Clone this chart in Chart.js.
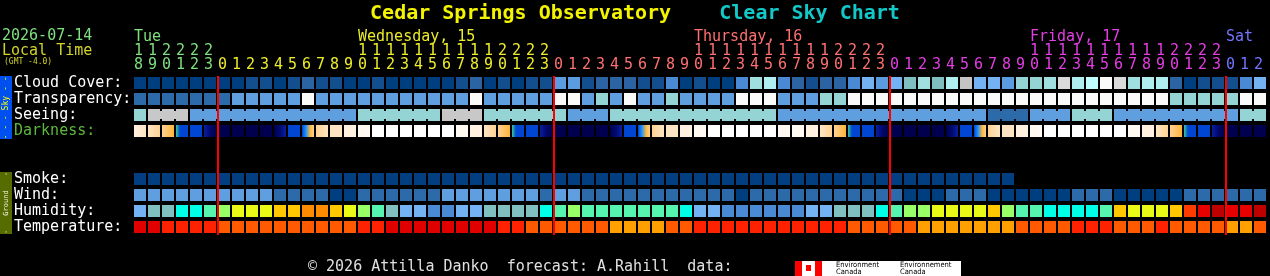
<!DOCTYPE html>
<html>
<head>
<meta charset="utf-8">
<script src="https://cdn.jsdelivr.net/npm/chart.js@4.4.1/dist/chart.umd.min.js"></script>
<style>
  html, body { margin: 0; padding: 0; background: #000; width: 1270px; height: 276px; overflow: hidden; }
  body { position: relative; font-family: 'DejaVu Sans Mono', monospace; }
  #csc { position: absolute; left: 0; top: 0; }
  .txt { position: absolute; white-space: pre; font-size: 15px; line-height: 15px; }
  #title { position: absolute; left: 0; top: 0; width: 1270px; text-align: center; white-space: pre;
           font-size: 20px; line-height: 24px; font-weight: bold; }
  .side { position: absolute; left: 0; width: 12px; overflow: hidden; }
  .side .rot { position: absolute; left: 50%; top: 50%; height: 12px; line-height: 12px;
               display: flex; justify-content: space-between; align-items: center; white-space: pre;
               transform: translate(-50%, -50%) rotate(-90deg); }
  #logo { position: absolute; left: 822px; top: 261px; width: 139px; height: 15px; background: #fff; }
  #logo span { position: absolute; top: 0; font-family: 'Liberation Sans Narrow', 'DejaVu Sans Condensed', sans-serif;
               font-size: 7.5px; line-height: 7px; color: #000; white-space: pre; }
</style>
</head>
<body>
<canvas id="csc" width="1270" height="276"></canvas>

<div id="title"><span style="color:#f4f400">Cedar Springs Observatory</span>    <span style="color:#12c8c8">Clear Sky Chart</span></div>
<div class="txt" style="left:2px; top:28px; color:#7ee07e">2026-07-14</div>
<div class="txt" style="left:2px; top:43px; color:#d2d22a">Local Time</div>
<div class="txt" style="left:4px; top:58px; font-size:8px; line-height:8px; color:#d2d22a">(GMT -4.0)</div>

<div class="side" style="top:76px; height:63px; background:#0050f0">
  <div class="rot" style="width:63px; font-size:8px; color:#ffff00"><span>- - -</span><span>Sky</span><span>- -</span></div>
</div>
<div class="side" style="top:172px; height:62px; background:#576c00">
  <div class="rot" style="width:62px; font-size:7px; color:#f0f0e0"><span>-</span><span>Ground</span><span>-</span></div>
</div>

<div class="txt" style="left:308px; top:259px; color:#e0e0e0">© 2026 Attilla Danko  forecast: A.Rahill  data:</div>
<div style="position:absolute; left:795px; top:261px; width:27px; height:15px; background:#ff0000">
  <div style="position:absolute; left:7px; top:0; width:13px; height:15px; background:#fff"></div>
  <div style="position:absolute; left:11px; top:4px; width:5px; height:6px; background:#ff0000"></div>
</div>
<div id="logo">
  <span style="left:14px">Environment
Canada</span>
  <span style="left:78px">Environnement
Canada</span>
</div>

<script>
// hour of each column (local time), Tue 18h .. Sat 2h
const hourLabels = [18, 19, 20, 21, 22, 23,
  0, 1, 2, 3, 4, 5, 6, 7, 8, 9, 10, 11, 12, 13, 14, 15, 16, 17, 18, 19, 20, 21, 22, 23,
  0, 1, 2, 3, 4, 5, 6, 7, 8, 9, 10, 11, 12, 13, 14, 15, 16, 17, 18, 19, 20, 21, 22, 23,
  0, 1, 2, 3, 4, 5, 6, 7, 8, 9, 10, 11, 12, 13, 14, 15, 16, 17, 18, 19, 20, 21, 22, 23,
  0, 1, 2];
const dayNames = ['Tue', 'Wednesday, 15', 'Thursday, 16', 'Friday, 17', 'Sat'];
const dayColors = ['#7ee07e', '#ecec2c', '#ff7070', '#e23ee2', '#7474ff'];
const rowLabels = ['Cloud Cover:', 'Transparency:', 'Seeing:', 'Darkness:', ' ', '  ',
  'Smoke:', 'Wind:', 'Humidity:', 'Temperature:'];

// legend levels for each forecast row
const cloudColors = ['#003f7f', '#134f8f', '#2b63a3', '#4a8ad4', '#5b9be0', '#73b3f3', '#7fbfbf',
  '#94d4d4', '#9fdfdf', '#afefef', '#bfffff', '#c4c4c4', '#dadada', '#fafafa'];
const skyColors = ['#003f7f', '#2c6aaa', '#5f9fdf', '#94d4d4', '#c8c8c8', '#fafafa'];
const darkColors = ['#ffffff', '#fff9f2', '#fff0e0', '#ffe4c4', '#ffd292', '#ffb43c', '#3cc896',
  '#1e96ff', '#0046d2', '#0a1e9e', '#000a6e', '#00004e'];
const smokeColors = ['#023e80'];
const windColors = ['#003f7f', '#2c6aaa', '#5f9fdf'];
const humidityColors = ['#4a8ad4', '#73b3f3', '#80c0c0', '#00ffe6', '#55f5b0', '#99ff66', '#e8fa16',
  '#ffc800', '#ff8c00', '#ff3c00', '#e60000', '#bf0000'];
const tempColors = ['#ffa000', '#ff5a00', '#ff2200', '#e00000'];

const cloud = [0, 0, 0, 0, 0, 0, 0, 0, 1, 1, 0, 1, 2, 1, 1, 0, 0, 1, 0, 0,
  0, 0, 0, 1, 2, 0, 1, 0, 1, 1, 4, 4, 1, 2, 2, 2, 1, 1, 3, 0,
  1, 0, 0, 3, 8, 9, 3, 2, 1, 2, 2, 3, 5, 4, 5, 6, 8, 6, 9, 11,
  5, 5, 4, 7, 7, 8, 12, 9, 10, 13, 12, 8, 9, 9, 2, 0, 1, 1, 1, 3, 5];
const transparency = [1, 1, 1, 1, 1, 1, 1, 2, 2, 2, 2, 2, 5, 2, 2, 2, 2, 2, 2, 2,
  2, 2, 2, 2, 5, 2, 2, 2, 2, 2, 5, 5, 2, 3, 2, 5, 2, 2, 3, 2,
  2, 2, 2, 5, 5, 5, 2, 2, 2, 3, 3, 5, 5, 5, 5, 5, 5, 5, 5, 5,
  5, 5, 5, 5, 5, 5, 5, 5, 5, 5, 5, 5, 5, 5, 3, 3, 3, 3, 3, 5, 5];
const seeing = [3, 4, 4, 4, 2, 2, 2, 2, 2, 2, 2, 2, 2, 2, 2, 2, 3, 3, 3, 3,
  3, 3, 4, 4, 4, 3, 3, 3, 3, 3, 3, 2, 2, 2, 3, 3, 3, 3, 3, 3,
  3, 3, 3, 3, 3, 3, 2, 2, 2, 2, 2, 2, 2, 2, 2, 2, 2, 2, 2, 2,
  2, 1, 1, 1, 2, 2, 2, 3, 3, 3, 2, 2, 2, 2, 2, 2, 2, 2, 2, 3, 3];
// darkness changes inside an hour, so each column lists its levels from left to right
const darkness = [
  [2, 3], [3, 4], [4, 5], [6, 8, 8, 8], [8], [9, 10, 11], [11], [11], [11], [11], [11, 10, 9], [8], [8, 7, 5, 4], [4, 3], [3], [2], [1], [0], [0], [0],
  [0], [0], [0], [1], [2], [3, 4], [4, 5], [6, 8, 8, 8], [8], [9, 10, 11], [11], [11], [11], [11], [11, 10, 9], [8], [8, 7, 5, 4], [4, 3], [3], [2],
  [1], [0], [0], [0], [0], [0], [1], [1], [2], [3, 4], [4, 5], [6, 8, 8, 8], [8], [9, 10, 11], [11], [11], [11], [11], [11, 10, 9], [8],
  [8, 7, 5, 4], [4, 3], [3], [2], [1], [0], [0], [0], [0], [0], [0], [1], [2], [3, 4], [4, 5], [6, 8, 8, 8], [8], [9, 10, 11], [11], [11], [11]];
const smoke = [0, 0, 0, 0, 0, 0, 0, 0, 0, 0, 0, 0, 0, 0, 0, 0, 0, 0, 0, 0,
  0, 0, 0, 0, 0, 0, 0, 0, 0, 0, 0, 0, 0, 0, 0, 0, 0, 0, 0, 0,
  0, 0, 0, 0, 0, 0, 0, 0, 0, 0, 0, 0, 0, 0, 0, 0, 0, 0, 0, 0, 0, 0, 0];
const wind = [2, 2, 2, 2, 2, 2, 2, 2, 2, 2, 1, 1, 1, 1, 0, 0, 1, 1, 1, 1,
  1, 1, 2, 2, 2, 2, 2, 2, 2, 1, 2, 2, 1, 1, 1, 1, 1, 1, 1, 1,
  1, 1, 1, 0, 1, 1, 1, 1, 1, 1, 1, 1, 1, 1, 1, 0, 0, 0, 1, 1,
  1, 0, 0, 0, 0, 0, 0, 1, 1, 1, 0, 0, 0, 0, 0, 1, 1, 1, 1, 1, 1];
const humidity = [1, 2, 2, 3, 3, 4, 5, 6, 6, 6, 7, 7, 8, 8, 7, 6, 5, 4, 2, 1,
  1, 0, 0, 1, 1, 2, 2, 2, 2, 3, 4, 5, 4, 4, 4, 4, 4, 4, 4, 3,
  1, 1, 0, 0, 0, 0, 0, 0, 1, 1, 2, 2, 2, 3, 4, 5, 5, 6, 6, 6,
  6, 7, 5, 4, 4, 3, 3, 3, 3, 4, 7, 6, 6, 6, 7, 9, 10, 11, 10, 10, 11];
const temperature = [3, 3, 2, 2, 2, 2, 1, 1, 1, 1, 1, 1, 1, 1, 1, 1, 2, 2, 3, 3,
  3, 3, 3, 3, 3, 3, 2, 2, 1, 1, 1, 1, 1, 1, 0, 0, 0, 0, 1, 1,
  2, 2, 2, 2, 2, 2, 2, 2, 2, 2, 2, 1, 1, 1, 1, 1, 0, 0, 0, 0,
  0, 0, 0, 1, 1, 1, 1, 2, 2, 2, 1, 1, 1, 2, 1, 1, 1, 1, 0, 0, 1];

const CELL = 12 / 14; // filled part of each hour column

// day index of every column, and where each day name is written
const dayOfCol = [];
const dayLabelAt = {};
let day = 0;
hourLabels.forEach((h, i) => {
  if (i > 0 && h === 0) day++;
  dayOfCol.push(day);
});
dayNames.forEach((name, d) => {
  const cols = hourLabels.map((h, i) => i).filter(i => dayOfCol[i] === d);
  const ten = cols.find(i => hourLabels[i] === 10);
  dayLabelAt[ten !== undefined ? ten : cols[0]] = name;
});

function cellRow(values, row, palette) {
  return {
    data: values.map((v, i) => ({ x: [i, i + CELL], y: row })),
    backgroundColor: values.map(v => palette[v]),
    barPercentage: 0.75
  };
}

// Seeing blocks are joined by a thinner bar between equal neighbours
const seeingLinks = [];
seeing.forEach((v, i) => {
  if (i < seeing.length - 1 && seeing[i + 1] === v) seeingLinks.push(i);
});

function darkFill(ctx) {
  const levels = darkness[ctx.dataIndex];
  if (!levels) return darkColors[0];
  if (levels.length === 1 || !ctx.chart.chartArea) return darkColors[levels[0]];
  const x = ctx.chart.scales.x;
  const x0 = x.getPixelForValue(ctx.dataIndex);
  const x1 = x.getPixelForValue(ctx.dataIndex + CELL);
  const g = ctx.chart.ctx.createLinearGradient(x0, 0, x1, 0);
  levels.forEach((lv, k) => g.addColorStop(k / (levels.length - 1), darkColors[lv]));
  return g;
}

// red lines at midnight
const midnightLines = {
  id: 'midnightLines',
  afterDatasetsDraw(chart) {
    const { ctx, chartArea, scales: { x } } = chart;
    ctx.save();
    ctx.fillStyle = '#ff0000';
    hourLabels.forEach((h, i) => {
      if (h === 0 && i > 0) {
        const px = Math.round(x.getPixelForValue(i));
        ctx.fillRect(px - 1, chartArea.top + 1, 2, chartArea.bottom - chartArea.top - 1);
      }
    });
    ctx.restore();
  }
};

const monoFont = { family: "'DejaVu Sans Mono', monospace", size: 15 };

new Chart(document.getElementById('csc'), {
  type: 'bar',
  data: {
    labels: rowLabels,
    datasets: [
      cellRow(cloud, rowLabels[0], cloudColors),
      cellRow(transparency, rowLabels[1], skyColors),
      cellRow(seeing, rowLabels[2], skyColors),
      {
        data: seeingLinks.map(i => ({ x: [i + CELL - 0.02, i + 1.02], y: rowLabels[2] })),
        backgroundColor: seeingLinks.map(i => skyColors[seeing[i]]),
        barPercentage: 0.5
      },
      {
        data: darkness.map((v, i) => ({ x: [i, i + CELL], y: rowLabels[3] })),
        backgroundColor: darkFill,
        barPercentage: 0.75
      },
      cellRow(smoke, rowLabels[6], smokeColors),
      cellRow(wind, rowLabels[7], windColors),
      cellRow(humidity, rowLabels[8], humidityColors),
      cellRow(temperature, rowLabels[9], tempColors)
    ]
  },
  plugins: [midnightLines],
  options: {
    indexAxis: 'y',
    responsive: false,
    animation: false,
    devicePixelRatio: 1,
    events: [],
    datasets: {
      bar: { grouped: false, categoryPercentage: 1, borderWidth: 0, inflateAmount: 0 }
    },
    layout: { autoPadding: false, padding: { left: 14, right: 2, top: 0, bottom: 41 } },
    plugins: { legend: { display: false }, tooltip: { enabled: false } },
    scales: {
      x: {
        type: 'linear',
        position: 'top',
        min: 0,
        max: hourLabels.length,
        grid: { display: false, drawTicks: false },
        border: { display: false },
        afterBuildTicks: scale => { scale.ticks = hourLabels.map((h, i) => ({ value: i })); },
        afterFit: scale => { scale.height = 75; },
        ticks: {
          autoSkip: false,
          maxRotation: 0,
          minRotation: 0,
          align: 'start',
          padding: 3,
          font: Object.assign({ lineHeight: '14px' }, monoFont),
          color: ctx => dayColors[dayOfCol[ctx.index]] || '#fff',
          callback: (value, index) => {
            const h = hourLabels[index];
            return [dayLabelAt[index] || '', h >= 10 ? String(Math.floor(h / 10)) : '', String(h % 10)];
          }
        }
      },
      y: {
        type: 'category',
        position: 'left',
        grid: { display: false, drawTicks: false },
        border: { display: false },
        afterFit: scale => { scale.width = 120; },
        ticks: {
          autoSkip: false,
          crossAlign: 'far',
          padding: 0,
          font: monoFont,
          color: ctx => (ctx.index === 3 ? '#5cb83c' : '#ffffff')
        }
      }
    }
  }
});
</script>
</body>
</html>
